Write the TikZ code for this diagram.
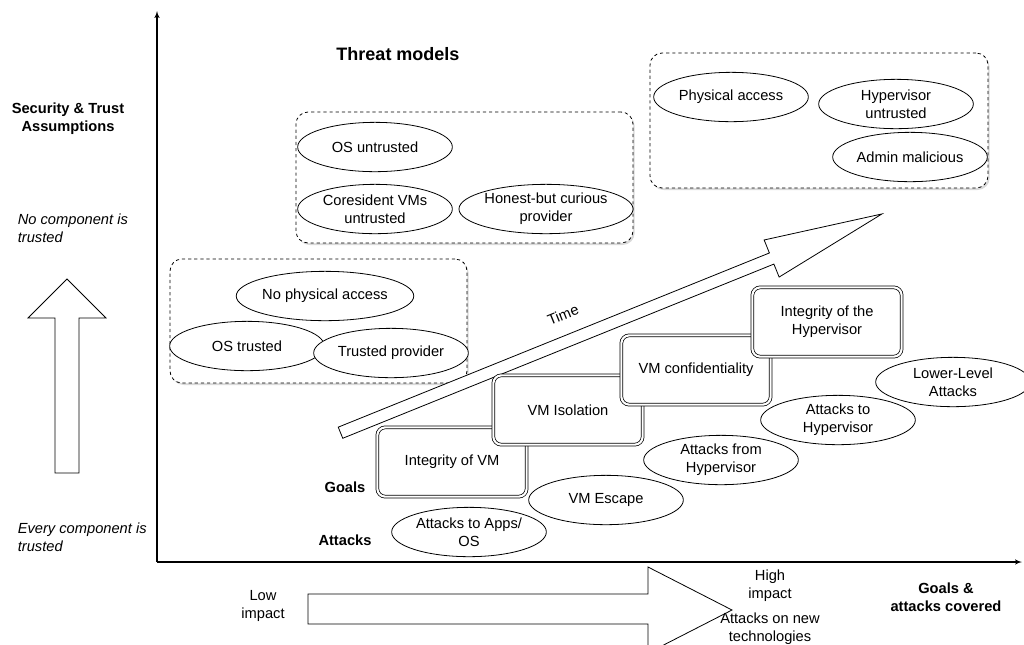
\documentclass[tikz,border=0pt]{standalone}
\usepackage{fontspec}
\setmainfont{Liberation Sans}
\usepackage{tikz}
\usetikzlibrary{shapes, arrows, positioning, shadows}

\begin{document}
\begin{tikzpicture}[x=0.75pt, y=-0.75pt, line width=0.6pt,
        font=\fontsize{11}{13.5}\selectfont,
        bold/.style={font=\fontsize{11}{13.5}\selectfont\bfseries},
        italic/.style={font=\fontsize{11}{13.5}\selectfont\itshape},
        group/.style={rectangle, draw, dash pattern=on 2.4pt off 2.2pt, rounded corners=9pt, fill=white,
            drop shadow={shadow xshift=1.2pt, shadow yshift=-1.5pt, opacity=0.3}},
        threat/.style={ellipse, draw, fill=white, align=center, inner sep=0pt, minimum width=116pt, minimum height=37pt},
        attack/.style={threat},
        goal/.style={rectangle, draw, double, double distance=1.6pt, line width=0.55pt, rounded corners=6pt,
            fill=white, align=center, minimum width=112pt, minimum height=52pt},
        block/.style={draw, fill=white},
        line/.style={draw, -latex', line width=0.8pt}
    ]
        \useasboundingbox (0,0) rectangle (1024,644);
        % Axes
        \coordinate (origin) at (157,562);
        \coordinate (ytop) at (157,11);
        \coordinate (xend) at (1022,562);
        \path[line] (origin) -- (ytop);
        \path[line] (origin) -- (xend);
        % Vertical axis labels
        \node[bold, align=center] (trust) at (68,119) {Security \& Trust\\Assumptions};
        \node[italic, align=left, anchor=west] (notrusted) at (13,228) {No component is\\trusted};
        \node[italic, align=left, anchor=west] (alltrusted) at (13,537) {Every component is\\trusted};
        \draw[block] (55,473) -- (55,318) -- (28,318) -- (67,279) -- (106,318) -- (79,318) -- (79,473) -- cycle;
        % Threat models
        \node[font=\fontsize{13.5}{16}\selectfont\bfseries] (title) at (398,54) {Threat models};
        \node[group, minimum width=222.75pt, minimum height=93pt] (weak) at (318.5,321) {};
        \node[threat] (nophys) at (325,296) {No physical access};
        \node[threat] (ostrusted) at (247,346) {OS trusted};
        \node[threat] (trustprov) at (391,353) {Trusted provider};
        \node[group, minimum width=252.75pt, minimum height=98.25pt] (medium) at (464.5,177.5) {};
        \node[threat] (osuntrusted) at (375,147) {OS untrusted};
        \node[threat] (coresident) at (375,209) {Coresident VMs\\untrusted};
        \node[threat] (honest) at (546,209) {Honest-but curious\\provider};
        \node[group, minimum width=253.5pt, minimum height=101.25pt] (strong) at (819,120.5) {};
        \node[threat] (physacc) at (731,97) {Physical access};
        \node[threat] (hypuntrusted) at (896,104) {Hypervisor\\untrusted};
        \node[threat] (admin) at (910,157) {Admin malicious};
        % Time arrow
        \begin{scope}[shift={(340.5,432.7)}, rotate=22]
            \draw[block] (0,-6) -- (465,-6) -- (465,-20) -- (584,0) -- (465,20) -- (465,6) -- (0,6) -- cycle;
        \end{scope}
        \node[rotate=22, inner sep=1pt] (time) at (563,315) {Time};
        % Goals
        \node[goal] (intvm) at (452,462) {Integrity of VM};
        \node[goal] (isolation) at (568,410) {VM Isolation};
        \node[goal] (confid) at (696,370) {VM confidentiality};
        \node[goal] (inthyp) at (827,322) {Integrity of the\\Hypervisor};
        \node[bold] (goals) at (345,487) {Goals};
        % Attacks
        \node[attack] (apps) at (469,532) {Attacks to Apps/\\OS};
        \node[attack] (escape) at (606,500) {VM Escape};
        \node[attack] (fromhyp) at (721,460) {Attacks from\\Hypervisor};
        \node[attack] (tohyp) at (838,420) {Attacks to\\Hypervisor};
        \node[attack] (lower) at (953,382) {Lower-Level\\Attacks};
        \node[bold] (attacks) at (345,540) {Attacks};
        % Horizontal axis labels
        \draw[block] (308,594) -- (648,594) -- (648,567) -- (732,610) -- (648,653) -- (648,624) -- (308,624) -- cycle;
        \node[align=center] (low) at (263,606) {Low\\impact};
        \node[align=center] (high) at (770,586) {High\\impact};
        \node[align=center, below=1pt of high] (newtech) {Attacks on new\\technologies};
        \node[bold, align=center] (covered) at (946,597) {Goals \&\\attacks covered};
    \end{tikzpicture}
\end{document}
